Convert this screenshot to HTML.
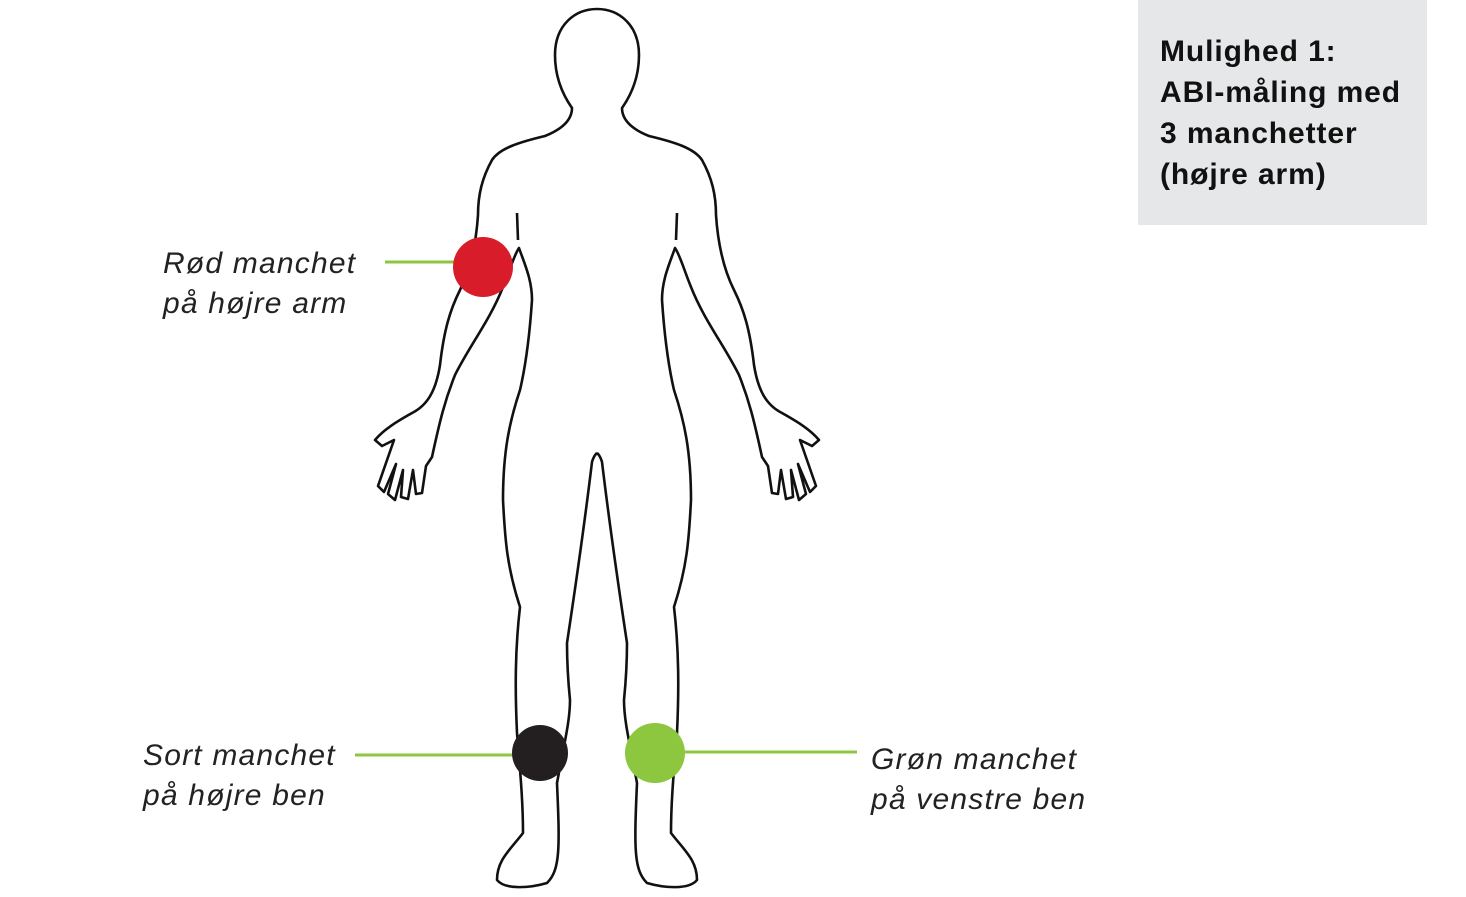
<!DOCTYPE html>
<html><head><meta charset="utf-8"><style>
body{margin:0;width:1466px;height:897px;background:#fff;position:relative;overflow:hidden;font-family:"Liberation Sans",sans-serif}
.lbl{position:absolute;font-style:italic;font-size:30px;letter-spacing:1.2px;color:#222;line-height:40px;font-weight:300}
.box{position:absolute;left:1138px;top:0;width:289px;height:225px;background:#e6e7e8}
.box div{position:absolute;left:22px;top:31px;font-weight:bold;font-size:30px;letter-spacing:0.9px;line-height:41px;color:#111;white-space:nowrap}
</style></head><body>
<svg width="1466" height="897" style="position:absolute;left:0;top:0">
<g id="half" fill="none" stroke="#111" stroke-width="2.6" stroke-linejoin="round">
<path d="M597,9 C575,9 555,25 555,55 C555,80 565,98 572,108 C572,118 565,128 545,136 C520,142 500,148 492,160 C482,178 478,195 478,215 C476,245 470,270 460,290 C450,310 444,330 440,365 C436,390 428,405 412,413 C400,420 385,428 375,440 L382,446 L394,440 L378,486 L384,492 L396,464 L388,494 L395,500 L403,470 L401,497 L408,499 L413,470 L416,494 L422,493 L426,466 L432,457 C440,420 445,400 455,375 C470,345 490,320 503,287 C510,270 514,255 519,248 C525,265 532,280 532,300 C530,330 527,360 520,390 C510,420 503,450 503,500 C505,540 507,567 520,607 C515,650 515,690 517,733 C520,770 523,800 523,833 C510,850 497,860 497,880 C505,890 530,888 547,883 C560,870 560,850 557,783 C565,740 570,720 570,700 C567,670 567,650 567,643 C575,590 585,520 592,462 C594,455 597,453 597,453"/>
<path d="M517,213 L518,240"/>
</g>
<use href="#half" transform="translate(1194,0) scale(-1,1)"/>
<g stroke="#8dc63f" stroke-width="3">
<line x1="385" y1="262" x2="458" y2="262"/>
<line x1="355" y1="755" x2="515" y2="755"/>
<line x1="685" y1="752" x2="857" y2="752"/>
</g>
<circle cx="483" cy="267" r="30" fill="#d91c2a"/>
<circle cx="540" cy="753" r="28" fill="#231f20"/>
<circle cx="655" cy="753" r="30" fill="#8dc63f"/>
</svg>
<div class="lbl" style="left:163px;top:244px">Rød manchet<br>på højre arm</div>
<div class="lbl" style="left:143px;top:736px">Sort manchet<br>på højre ben</div>
<div class="lbl" style="left:871px;top:740px">Grøn manchet<br>på venstre ben</div>
<div class="box"><div>Mulighed 1:<br>ABI-måling med<br>3 manchetter<br>(højre arm)</div></div>
</body></html>
